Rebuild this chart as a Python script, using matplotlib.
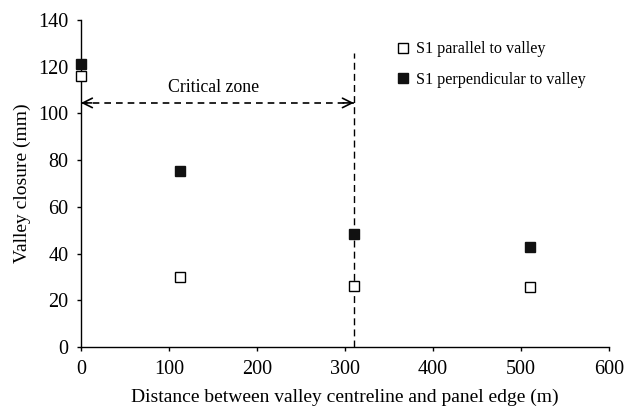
import matplotlib.pyplot as plt

plt.rcParams["font.family"] = ["Liberation Serif", "DejaVu Serif"]

# valley closure measurements
distance_m = [0, 112, 310, 510]
closure_parallel = [116, 30, 26, 25.5]
closure_perpendicular = [121, 75.5, 48.5, 43]

CRITICAL_EDGE = 310
ARROW_Y = 104.5
BOUNDARY_TOP = 126

fig = plt.figure(figsize=(6.3, 4.08), dpi=100)
ax = fig.add_axes([0.1286, 0.1495, 0.838, 0.8015])

ax.plot(distance_m, closure_parallel, ls="none", marker="s", ms=7,
        mfc="white", mec="black", mew=1.0, clip_on=False, zorder=3,
        label="S1 parallel to valley")
ax.plot(distance_m, closure_perpendicular, ls="none", marker="s", ms=7,
        mfc="#111111", mec="#111111", mew=1.0, clip_on=False, zorder=3,
        label="S1 perpendicular to valley")

# critical zone: dashed double arrow and boundary line
ax.plot([0, CRITICAL_EDGE], [ARROW_Y, ARROW_Y], color="black", lw=1.2,
        ls=(0, (4, 3)), zorder=1)
for tip, tail in [(0, 12), (CRITICAL_EDGE, CRITICAL_EDGE - 12)]:
    ax.annotate("", xy=(tip, ARROW_Y), xytext=(tail, ARROW_Y),
                arrowprops=dict(arrowstyle="->", lw=1.2, color="black",
                                mutation_scale=17, shrinkA=0, shrinkB=0))
ax.plot([CRITICAL_EDGE, CRITICAL_EDGE], [0, BOUNDARY_TOP], color="black",
        lw=1.0, ls=(0, (5, 3)), zorder=1)
ax.text(151, 111, "Critical zone", ha="center", va="center", fontsize=12.8)

ax.set_xlim(0, 600)
ax.set_ylim(0, 140)
ax.set_xticks(range(0, 601, 100))
ax.set_yticks(range(0, 141, 20))
ax.tick_params(direction="out", length=3, width=1, labelsize=14.5, pad=6)
for side in ("top", "right"):
    ax.spines[side].set_visible(False)
ax.spines["left"].set_linewidth(1)
ax.spines["bottom"].set_linewidth(1)

ax.set_xlabel("Distance between valley centreline and panel edge (m)",
              fontsize=14, labelpad=7)
ax.set_ylabel("Valley closure (mm)", fontsize=14, labelpad=5)

ax.legend(loc="upper left", bbox_to_anchor=(0.585, 0.955), frameon=False,
          fontsize=11.6, handlelength=0.8, handletextpad=0.4, labelspacing=0.9,
          borderaxespad=0)

fig.savefig("out.png", dpi=100)
